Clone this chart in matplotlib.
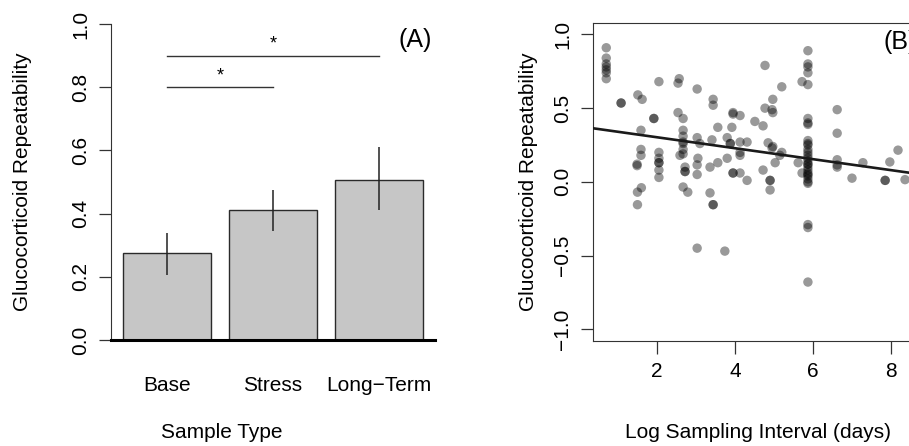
import numpy as np
import matplotlib
matplotlib.use('Agg')
import matplotlib.pyplot as plt

plt.rcParams['font.family'] = ['Liberation Sans', 'DejaVu Sans']
plt.rcParams['axes.unicode_minus'] = True

# panel A: repeatability by sample type
categories = ['Base', 'Stress', 'Long\u2212Term']
repeatability = [0.275, 0.41, 0.507]
err_low = [0.205, 0.345, 0.41]
err_high = [0.34, 0.475, 0.61]
sig_pairs = [(0, 1, 0.8), (0, 2, 0.9)]

# panel B: repeatability vs log sampling interval
log_interval = [
    0.7, 0.7, 0.7, 0.7, 0.7, 0.7, 0.7,
    1.08, 1.08, 1.51, 1.62, 2.05, 1.92, 1.92, 1.59, 1.59, 1.59, 1.49, 1.49,
    2.05, 2.05, 2.05, 2.05, 2.05, 2.05, 1.6, 1.5, 1.5,
    2.57, 2.54, 3.03, 3.44, 3.44, 2.54, 2.67, 3.95, 3.95, 3.56, 3.92,
    2.67, 2.67, 2.67, 2.67, 2.67, 2.67, 3.03, 3.41, 3.8, 3.88, 3.88,
    4.13, 2.59, 3.05, 3.56, 3.8, 2.72, 2.72, 2.72, 3.03, 3.03, 3.36,
    3.95, 3.95, 2.67, 2.79, 3.36, 3.44, 3.44, 3.03, 3.74,
    5.87, 5.87, 5.87, 5.87, 4.77, 5.72, 5.87, 5.2, 4.97, 4.77, 4.95, 4.97,
    4.13, 4.51, 4.72, 5.87, 5.87, 5.87, 4.31, 4.13, 4.85, 4.97, 5.2, 4.13,
    5.87, 5.87, 5.87, 5.87, 5.87, 5.87, 5.87, 5.87, 5.87, 5.87, 5.87, 5.87,
    5.87, 5.87, 5.87, 5.87, 5.87, 5.87,
    5.62, 5.72, 5.03, 4.72, 4.31, 4.9, 4.9, 4.9, 4.13, 5.87, 5.87, 5.87,
    3.1, 5.15, 4.95,
    6.62, 6.62, 6.62, 6.62, 6.62, 7.28, 7.97, 8.18, 7.0, 7.85, 7.85, 8.36,
]
gc_repeat = [
    0.91, 0.84, 0.80, 0.78, 0.76, 0.74, 0.70,
    0.535, 0.535, 0.59, 0.56, 0.68, 0.43, 0.43, 0.35, 0.22, 0.18, 0.12, 0.11,
    0.20, 0.16, 0.13, 0.13, 0.08, 0.03, -0.04, -0.07, -0.155,
    0.70, 0.67, 0.63, 0.56, 0.52, 0.47, 0.43, 0.47, 0.46, 0.37, 0.37,
    0.35, 0.31, 0.27, 0.26, 0.22, 0.19, 0.30, 0.285, 0.30, 0.26, 0.26,
    0.20, 0.18, 0.16, 0.13, 0.16, 0.10, 0.07, 0.07, 0.115, 0.05, 0.10,
    0.06, 0.06, -0.035, -0.07, -0.075, -0.155, -0.155, -0.45, -0.47,
    0.89, 0.80, 0.78, 0.74, 0.79, 0.68, 0.66, 0.645, 0.56, 0.50, 0.49, 0.47,
    0.45, 0.41, 0.38, 0.43, 0.40, 0.39, 0.27, 0.27, 0.265, 0.24, 0.20, 0.18,
    0.28, 0.25, 0.22, 0.20, 0.18, 0.16, 0.14, 0.12, 0.10, 0.08, 0.06, 0.04,
    0.02, 0.0, -0.01, 0.26, 0.12, 0.05,
    0.13, 0.06, 0.13, 0.08, 0.01, 0.01, 0.01, -0.055, 0.06, -0.29, -0.31, -0.68,
    0.26, 0.18, 0.23,
    0.49, 0.33, 0.15, 0.115, 0.10, 0.13, 0.135, 0.215, 0.025, 0.01, 0.01, 0.015,
]
fit_intercept = 0.377
fit_slope = -0.0372

W, H = 909, 446
def box(x0, y0, x1, y1):
    return [x0 / W, 1 - y1 / H, (x1 - x0) / W, (y1 - y0) / H]

fig = plt.figure(figsize=(W / 100, H / 100), dpi=100)
fs = 15

# ---- panel A
axA = fig.add_axes(box(111, 24, 435, 340))
pos = np.arange(len(categories)) * 1.2 + 0.7
axA.bar(pos, repeatability, width=1.0, color='#c6c6c6', edgecolor='#2a2a2a', linewidth=1, zorder=2)
axA.vlines(pos, err_low, err_high, color='#222222', linewidth=1.1, zorder=3)
for i, j, h in sig_pairs:
    axA.plot([pos[i], pos[j]], [h, h], color='#333333', lw=1.0)
    axA.text((pos[i] + pos[j]) / 2, h + 0.01, '*', ha='center', va='bottom', fontsize=13)
axA.text(3.51, 0.95, '(A)', ha='center', va='center', fontsize=18)
axA.set_xlim(0.064, 3.736)
axA.set_ylim(0, 1)
for s in ['top', 'right']:
    axA.spines[s].set_visible(False)
axA.spines['left'].set_color('#333333')
axA.spines['bottom'].set_linewidth(2.2)
axA.spines['bottom'].set_color('black')
axA.set_yticks(np.arange(0, 1.01, 0.2))
axA.set_yticklabels(['%.1f' % v for v in np.arange(0, 1.01, 0.2)], rotation=90, va='center')
axA.set_xticks(pos)
axA.set_xticklabels(categories)
axA.tick_params(axis='y', direction='out', length=9, width=0.9, color='#333333', labelsize=fs, pad=6)
axA.tick_params(axis='x', length=0, labelsize=fs, pad=26)
fig.text(222 / W, 1 - 433 / H, 'Sample Type', ha='center', va='center', fontsize=fs)
fig.text(23 / W, 1 - 182 / H, 'Glucocorticoid Repeatability', ha='center', va='center',
         rotation=90, fontsize=fs)

# ---- panel B
axB = fig.add_axes(box(593, 22.7, 930, 341))
axB.scatter(log_interval, gc_repeat, s=46, color='black', alpha=0.4, edgecolors='none', zorder=2)
xl = np.array([0.36, 9.0])
axB.plot(xl, fit_intercept + fit_slope * xl, color='#1a1a1a', lw=1.9, zorder=3)
axB.text(8.23, 0.95, '(B)', ha='center', va='center', fontsize=18)
axB.set_xlim(0.36, 9.0)
axB.set_ylim(-1.08, 1.08)
for s in axB.spines.values():
    s.set_color('#333333')
axB.set_xticks([2, 4, 6, 8])
yt = [-1.0, -0.5, 0.0, 0.5, 1.0]
axB.set_yticks(yt)
axB.set_yticklabels([('%.1f' % v).replace('-', '\u2212') for v in yt], rotation=90, va='center')
axB.tick_params(direction='out', length=9, width=0.9, color='#333333', labelsize=fs, pad=6)
fig.text(758 / W, 1 - 433 / H, 'Log Sampling Interval (days)', ha='center', va='center', fontsize=fs)
fig.text(528 / W, 1 - 182 / H, 'Glucocorticoid Repeatability', ha='center', va='center',
         rotation=90, fontsize=fs)

fig.savefig('out.png', dpi=100)
